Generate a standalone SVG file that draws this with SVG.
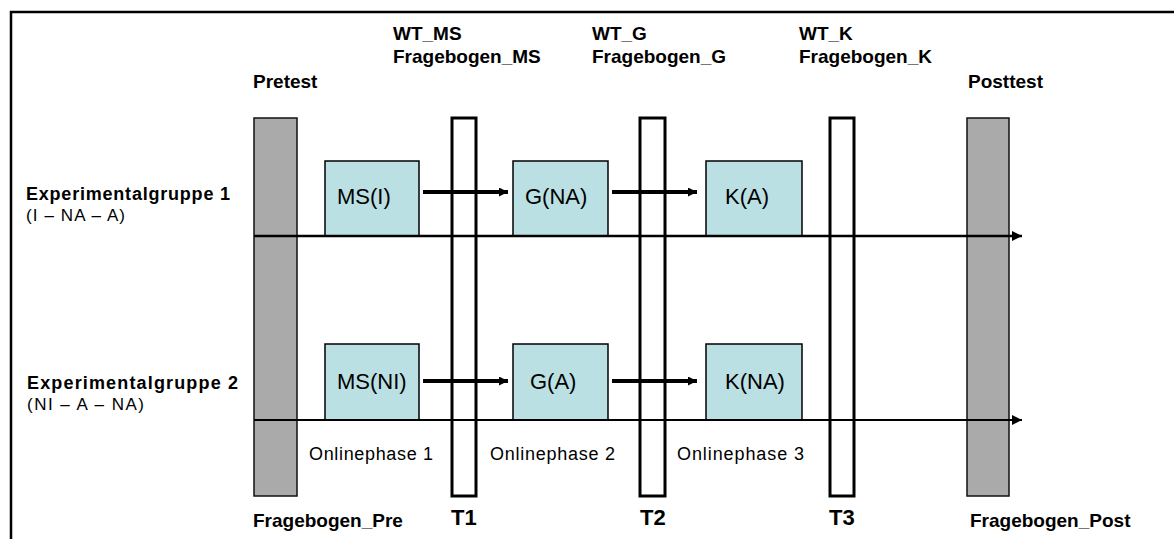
<svg xmlns="http://www.w3.org/2000/svg" width="1174" height="539" viewBox="0 0 1174 539">
  <defs>
    <marker id="head" viewBox="0 0 10 10" refX="10" refY="5" markerWidth="10" markerHeight="10" markerUnits="userSpaceOnUse" orient="auto">
      <path d="M0,0 L10,5 L0,10 Z" fill="#000"/>
    </marker>
    <marker id="headSmall" viewBox="0 0 10 10" refX="10" refY="5" markerWidth="9" markerHeight="9" markerUnits="userSpaceOnUse" orient="auto">
      <path d="M0,0 L10,5 L0,10 Z" fill="#000"/>
    </marker>
  </defs>
  <style>
    .frame { fill: none; stroke: #000; stroke-width: 2.5; }
    .test { fill: #aaaaaa; stroke: #111; stroke-width: 1.5; }
    .tbar { fill: #fff; stroke: #000; stroke-width: 3; }
    .box { fill: #bbe0e3; stroke: #000; stroke-width: 1.5; }
    .b { font-family: "Liberation Sans", Arial, sans-serif; font-weight: bold; font-size: 19px; fill: #000; }
    .g { font-family: "Liberation Sans", Arial, sans-serif; font-weight: bold; font-size: 18px; fill: #000; }
    .r { font-family: "Liberation Sans", Arial, sans-serif; font-size: 17px; fill: #000; }
    .p { font-family: "Liberation Sans", Arial, sans-serif; font-size: 18px; fill: #000; }
    .box-label { font-family: "Liberation Sans", Arial, sans-serif; font-size: 22px; fill: #000; }
    .t { font-family: "Liberation Sans", Arial, sans-serif; font-weight: bold; font-size: 22px; fill: #000; }
    .timeline1 { stroke: #000; stroke-width: 2.5; fill: none; }
    .timeline2 { stroke: #000; stroke-width: 2; fill: none; }
    .step { stroke: #000; stroke-width: 4; fill: none; }
  </style>

  <rect width="1174" height="539" fill="#fff"/>
  <rect class="frame" x="11" y="12" width="1170" height="540"/>

  <!-- test columns -->
  <g id="pretest">
    <rect class="test" x="254" y="118" width="43" height="378"/>
    <text class="b" x="253" y="88">Pretest</text>
    <text class="b" x="253" y="527">Fragebogen_Pre</text>
  </g>
  <g id="posttest">
    <rect class="test" x="967" y="118" width="42" height="378"/>
    <text class="b" x="968" y="88">Posttest</text>
    <text class="b" x="970" y="527">Fragebogen_Post</text>
  </g>

  <!-- measurement points -->
  <g id="t1">
    <rect class="tbar" x="452" y="118" width="24" height="378"/>
    <text class="b" x="393" y="40">WT_MS</text>
    <text class="b" x="393" y="63">Fragebogen_MS</text>
    <text class="t" x="451" y="525">T1</text>
  </g>
  <g id="t2">
    <rect class="tbar" x="640" y="118" width="25" height="378"/>
    <text class="b" x="592" y="40">WT_G</text>
    <text class="b" x="592" y="63">Fragebogen_G</text>
    <text class="t" x="640" y="525">T2</text>
  </g>
  <g id="t3">
    <rect class="tbar" x="830" y="118" width="24" height="378"/>
    <text class="b" x="799" y="40">WT_K</text>
    <text class="b" x="799" y="63">Fragebogen_K</text>
    <text class="t" x="829" y="525">T3</text>
  </g>

  <!-- group labels -->
  <g id="group1">
    <text class="g" x="26" y="200" textLength="204" lengthAdjust="spacing">Experimentalgruppe 1</text>
    <text class="r" x="26" y="221" textLength="99" lengthAdjust="spacing">(I – NA – A)</text>
  </g>
  <g id="group2">
    <text class="g" x="27" y="389" textLength="211" lengthAdjust="spacing">Experimentalgruppe 2</text>
    <text class="r" x="27" y="410" textLength="117" lengthAdjust="spacing">(NI – A – NA)</text>
  </g>

  <!-- learning units, group 1 -->
  <g id="ms1">
    <rect class="box" x="325" y="161" width="94" height="75"/>
    <text class="box-label" x="337" y="204">MS(I)</text>
  </g>
  <g id="g1">
    <rect class="box" x="513" y="161" width="95" height="75"/>
    <text class="box-label" x="525" y="204">G(NA)</text>
  </g>
  <g id="k1">
    <rect class="box" x="706" y="161" width="96" height="75"/>
    <text class="box-label" x="725" y="204">K(A)</text>
  </g>

  <!-- learning units, group 2 -->
  <g id="ms2">
    <rect class="box" x="325" y="344" width="94" height="76"/>
    <text class="box-label" x="337" y="389">MS(NI)</text>
  </g>
  <g id="g2">
    <rect class="box" x="513" y="344" width="95" height="76"/>
    <text class="box-label" x="530" y="389">G(A)</text>
  </g>
  <g id="k2">
    <rect class="box" x="706" y="344" width="96" height="76"/>
    <text class="box-label" x="725" y="389">K(NA)</text>
  </g>

  <!-- phase labels -->
  <g id="phases">
    <text class="p" x="309" y="460" textLength="124" lengthAdjust="spacing">Onlinephase 1</text>
    <text class="p" x="490" y="460" textLength="125" lengthAdjust="spacing">Onlinephase 2</text>
    <text class="p" x="677" y="460" textLength="127" lengthAdjust="spacing">Onlinephase 3</text>
  </g>

  <!-- connectors -->
  <g id="connectors">
    <line class="timeline1" x1="254" y1="236" x2="1022" y2="236" marker-end="url(#head)"/>
    <line class="timeline2" x1="254" y1="420" x2="1022" y2="420" marker-end="url(#head)"/>
    <line class="step" x1="423" y1="192" x2="508" y2="192" marker-end="url(#headSmall)"/>
    <line class="step" x1="612" y1="192" x2="697" y2="192" marker-end="url(#headSmall)"/>
    <line class="step" x1="423" y1="381" x2="508" y2="381" marker-end="url(#headSmall)"/>
    <line class="step" x1="612" y1="381" x2="697" y2="381" marker-end="url(#headSmall)"/>
  </g>
</svg>
